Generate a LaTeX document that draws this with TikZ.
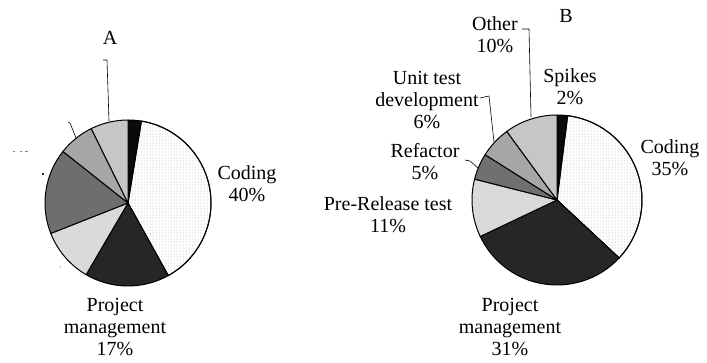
\documentclass[tikz,border=0pt]{standalone}
\usepackage{fontspec}
\setmainfont{Liberation Serif}
\usetikzlibrary{patterns}
\definecolor{cSpike}{HTML}{0A0A0A}
\definecolor{cPM}{HTML}{262626}
\definecolor{cPre}{HTML}{DADADA}
\definecolor{cRefA}{HTML}{6E6E6E}
\definecolor{cRefB}{HTML}{707070}
\definecolor{cUnit}{HTML}{A6A6A6}
\definecolor{cOther}{HTML}{C6C6C6}
\tikzset{
  lbl/.style={align=center, inner sep=0pt, font=\fontsize{20}{22}\selectfont},
  slice/.style={draw=black, line width=1pt, line join=round},
  leader/.style={draw=black, line width=0.6pt},
}
% \pieslice{center}{radius}{from}{to}{style}  angles clockwise from top
\newcommand{\mypieslice}[5]{%
  \path[slice,#5] (#1) -- ++({#3-90}:#2) arc[start angle={#3-90}, end angle={#4-90}, radius=#2] -- cycle;}
\begin{document}
\begin{tikzpicture}[x=1pt,y=-1pt]
\useasboundingbox (0,0) rectangle (707,362);
\fill[white] (0,0) rectangle (707,362);
% ---------- Pie A ----------
\coordinate (ca) at (128,203);
\mypieslice{ca}{83}{0}{9.3}{fill=cSpike}
\mypieslice{ca}{83}{9.3}{151}{fill=white}
\path[pattern=dots, pattern color=gray!70] (ca) -- ++({9.3-90}:83) arc[start angle={9.3-90}, end angle={151-90}, radius=83] -- cycle;
\mypieslice{ca}{83}{9.3}{151}{}
\mypieslice{ca}{83}{151}{210.3}{fill=cPM}
\mypieslice{ca}{83}{210.3}{248.5}{fill=cPre}
\mypieslice{ca}{83}{248.5}{308.4}{fill=cRefA}
\mypieslice{ca}{83}{308.4}{333.7}{fill=cUnit}
\mypieslice{ca}{83}{333.7}{360}{fill=cOther}
\node[lbl] (titleA) at (110,38) {A};
\node[lbl] (codA) at (247,184) {Coding\\40\%};
\node[lbl] (pmA) at (115,327) {Project\\management\\17\%};
\coordinate (aO1) at (103,60);
\coordinate (aO2) at (107,60);
\coordinate (aO3) at (109,121);
\draw[leader] (aO1) -- (aO2) -- (aO3);
\coordinate (aU1) at (68,122);
\coordinate (aU2) at (70,123);
\coordinate (aU3) at (76,138);
\draw[leader] (aU1) -- (aU2) -- (aU3);
\fill[gray] (13,150.5) rectangle (15,151.5);
\fill[gray] (20,150.5) rectangle (22,151.5);
\fill[gray] (25,150.5) rectangle (28,151.5);
\fill[black!80] (42,173) rectangle (44,175);
\fill[gray!60] (60,266) rectangle (61,268);
% ---------- Pie B ----------
\coordinate (cb) at (557,200);
\mypieslice{cb}{85}{0}{7.2}{fill=cSpike}
\mypieslice{cb}{85}{7.2}{133}{fill=white}
\path[pattern=dots, pattern color=gray!70] (cb) -- ++({7.2-90}:85) arc[start angle={7.2-90}, end angle={133-90}, radius=85] -- cycle;
\mypieslice{cb}{85}{7.2}{133}{}
\mypieslice{cb}{85}{133}{244.6}{fill=cPM}
\mypieslice{cb}{85}{244.6}{284.2}{fill=cPre}
\mypieslice{cb}{85}{284.2}{302.2}{fill=cRefB}
\mypieslice{cb}{85}{302.2}{323.8}{fill=cUnit}
\mypieslice{cb}{85}{323.8}{360}{fill=cOther}
\node[lbl] (titleB) at (566,16) {B};
\node[lbl] (othB) at (495,35) {Other\\10\%};
\node[lbl] (spkB) at (570,87) {Spikes\\2\%};
\node[lbl] (codB) at (670,158) {Coding\\35\%};
\node[lbl] (unitB) at (427,100) {Unit test\\development\\6\%};
\node[lbl] (refB) at (425,162) {Refactor\\5\%};
\node[lbl] (preB) at (388,215) {Pre-Release test\\11\%};
\node[lbl] (pmB) at (510,327) {Project\\management\\31\%};
\coordinate (bO1) at (522,29);
\coordinate (bO2) at (529,29);
\coordinate (bO3) at (531,117);
\draw[leader] (bO1) -- (bO2) -- (bO3);
\coordinate (bU1) at (unitB.east |- 0,98);
\coordinate (bU2) at (489,96);
\coordinate (bU3) at (494,142);
\draw[leader] ([xshift=1pt]bU1) -- (bU2) -- (bU3);
\coordinate (bR1) at (465,160);
\coordinate (bR2) at (470,161);
\coordinate (bR3) at (478,168);
\draw[leader] (bR1) -- (bR2) -- (bR3);
\end{tikzpicture}
\end{document}
